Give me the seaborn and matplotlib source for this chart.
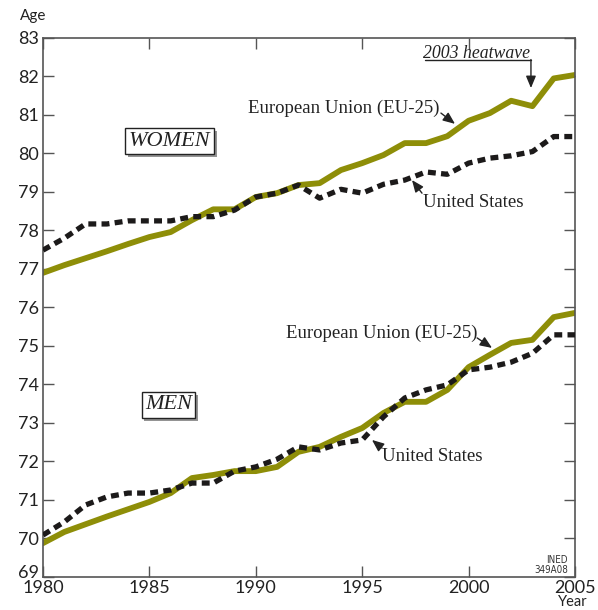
import matplotlib
matplotlib.use("Agg")
import matplotlib.pyplot as plt
import matplotlib.patheffects as pe
import matplotlib.transforms as mtrans
import seaborn as sns
import pandas as pd

years = list(range(1980, 2006))
eu_women = [76.90, 77.10, 77.28, 77.46, 77.65, 77.83, 77.96, 78.27, 78.55, 78.55,
            78.87, 78.97, 79.18, 79.23, 79.57, 79.75, 79.96, 80.27, 80.27, 80.45,
            80.85, 81.05, 81.37, 81.23, 81.95, 82.04]
us_women = [77.49, 77.80, 78.17, 78.17, 78.25, 78.25, 78.25, 78.36, 78.36, 78.53,
            78.87, 78.97, 79.18, 78.84, 79.07, 78.97, 79.20, 79.31, 79.52, 79.46,
            79.75, 79.88, 79.94, 80.05, 80.44, 80.44]
eu_men = [69.88, 70.17, 70.37, 70.57, 70.76, 70.95, 71.18, 71.57, 71.65, 71.75,
          71.75, 71.86, 72.25, 72.38, 72.64, 72.87, 73.26, 73.55, 73.55, 73.86,
          74.45, 74.77, 75.08, 75.16, 75.75, 75.86]
us_men = [70.09, 70.43, 70.87, 71.08, 71.18, 71.18, 71.26, 71.44, 71.44, 71.75,
          71.86, 72.06, 72.38, 72.30, 72.48, 72.56, 73.16, 73.65, 73.86, 73.99,
          74.38, 74.45, 74.58, 74.81, 75.29, 75.29]
x_ticks = [1980, 1985, 1990, 1995, 2000, 2005]
y_ticks = list(range(69, 84))

EU_COLOR = "#8e8e08"
US_COLOR = "#1c1a1a"
SANS = ["Lato", "DejaVu Sans"]
SERIF = ["Liberation Serif", "DejaVu Serif"]

sns.set_theme(style="white")
plt.rcParams["font.family"] = SANS

df = pd.DataFrame({"year": years, "eu_w": eu_women, "us_w": us_women,
                   "eu_m": eu_men, "us_m": us_men})

fig = plt.figure(figsize=(5.98, 6.10), dpi=100)
ax = fig.add_axes([43 / 598, 1 - 577 / 610, 532 / 598, 539 / 610])

for col in ["us_w", "us_m"]:
    sns.lineplot(data=df, x="year", y=col, ax=ax, color=US_COLOR, lw=3.8,
                 dashes=False, zorder=3)
    ax.lines[-1].set_dashes([1.5, 1.0])
    ax.lines[-1].set_dash_capstyle("butt")
for col in ["eu_w", "eu_m"]:
    sns.lineplot(data=df, x="year", y=col, ax=ax, color=EU_COLOR, lw=4.2, zorder=2)

ax.set_xlim(1980, 2005)
ax.set_ylim(69, 83)
ax.set_xticks(x_ticks)
ax.set_yticks(y_ticks)
ax.set_xlabel("")
ax.set_ylabel("")
ax.tick_params(axis="both", which="both", direction="in", length=8, width=1,
               color="#555555", labelsize=13, labelcolor="#222222",
               top=True, right=True, left=True, bottom=True, pad=3)
ax.tick_params(axis="x", pad=2.5)
ax.tick_params(axis="x", top=True, labeltop=False)
for lab in ax.get_xticklabels() + ax.get_yticklabels():
    lab.set_fontfamily(SANS)
for s in ax.spines.values():
    s.set_color("#555555")
    s.set_linewidth(1.2)

# lift the lowest y label a little so it clears the first year label
low = ax.get_yticklabels()[0]
low.set_transform(low.get_transform() +
                  mtrans.ScaledTranslation(0, 5 / 100, fig.dpi_scale_trans))

fig.text(20 / 598, 1 - 16 / 610, "Age", fontsize=11, color="#222222",
         ha="left", va="center", family=SANS)
fig.text(588 / 598, 1 - 609 / 610, "Year", fontsize=10.5, color="#222222",
         ha="right", va="bottom", family=SANS)
ax.text(2004.67, 69.31, "INED\n349A08", fontsize=7, ha="right", va="center",
        color="#333333", family=["DejaVu Sans"], stretch="condensed",
        linespacing=1.0)

shadow = [pe.withSimplePatchShadow(offset=(2, -2), shadow_rgbFace="#888888", alpha=0.9)]
for txt, xy in [("WOMEN", (1985.95, 80.32)), ("MEN", (1985.9, 73.47))]:
    t = ax.text(xy[0], xy[1], txt, fontsize=16, style="italic", weight="normal",
                ha="center", va="center", color="#222222", family=SERIF,
                bbox=dict(boxstyle="square,pad=0.15", fc="white", ec="#222222", lw=1.0))
    t.get_bbox_patch().set_path_effects(shadow)

arrow = dict(arrowstyle="-|>,head_length=0.6,head_width=0.25", color="#222222", lw=1.0,
             shrinkA=0, shrinkB=0)
font = dict(fontsize=13.5, family=SERIF, color="#222222")

# Women
ax.text(1998.65, 81.18, "European Union (EU-25)", ha="right", va="center", **font)
ax.annotate("", xy=(1999.36, 80.77), xytext=(1998.70, 81.05), arrowprops=arrow)
ax.text(1997.86, 78.74, "United States", ha="left", va="center", **font)
ax.annotate("", xy=(1997.34, 79.31), xytext=(1997.81, 78.97), arrowprops=arrow)
# Men
ax.text(2000.40, 75.34, "European Union (EU-25)", ha="right", va="center", **font)
ax.annotate("", xy=(2001.10, 74.95), xytext=(2000.40, 75.21), arrowprops=arrow)
ax.text(1995.93, 72.12, "United States", ha="left", va="center", **font)
ax.annotate("", xy=(1995.46, 72.56), xytext=(1995.93, 72.35), arrowprops=arrow)

# 2003 heatwave, underlined with a leader line down to 2003
ax.text(2002.89, 82.61, "2003 heatwave", fontsize=12.8, family=SERIF, style="italic",
        ha="right", va="center", color="#222222")
ax.plot([1997.95, 2002.93], [82.43, 82.43], color="#222222", lw=1.0, clip_on=False)
ax.annotate("", xy=(2002.93, 81.70), xytext=(2002.93, 82.44), arrowprops=arrow)

fig.savefig("out.png", dpi=100)
